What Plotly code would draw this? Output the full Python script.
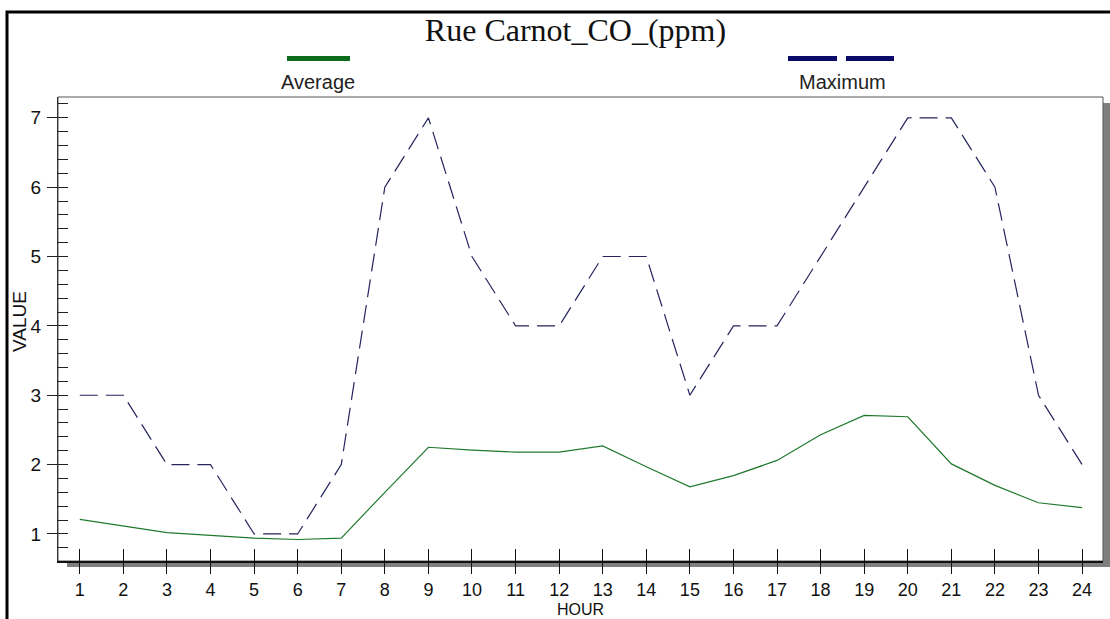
import plotly.graph_objects as go

hours = list(range(1, 25))
average = [1.21, 1.11, 1.02, 0.98, 0.94, 0.92, 0.94, 1.60, 2.25, 2.21, 2.18, 2.18, 2.27, 1.97, 1.68, 1.84, 2.06, 2.43, 2.71, 2.69, 2.01, 1.70, 1.45, 1.38]
maximum = [3, 3, 2, 2, 1, 1, 2, 6, 7, 5, 4, 4, 5, 5, 3, 4, 4, 5, 6, 7, 7, 6, 3, 2]
y_ticks = [1, 2, 3, 4, 5, 6, 7]

W, H = 1110, 619
L, R, T, B = 58, 1103, 97, 561

def px(x):
    return (x - L) / (R - L)

def py(y):
    return (B - y) / (B - T)

XR = [0.5, 24.48]
YR = [0.61, 7.3]
green = "#1f7a2c"
navy = "#24245e"
xtickfont = dict(family="Liberation Sans, Arial", size=18, color="#111")
ytickfont = dict(family="Liberation Sans, Arial", size=19, color="#111")

fig = go.Figure()
fig.add_trace(go.Scatter(x=hours, y=average, mode="lines", name="Average",
                         line=dict(color=green, width=1.2), xaxis="x", yaxis="y"))
fig.add_trace(go.Scatter(x=hours, y=maximum, mode="lines", name="Maximum",
                         line=dict(color=navy, width=1.2, dash="18px,8px"), xaxis="x2", yaxis="y2"))

shapes = [
    # outer frame
    dict(type="rect", xref="paper", yref="paper", x0=px(7), x1=px(1130), y0=py(640), y1=py(12),
         line=dict(color="black", width=3), fillcolor="rgba(0,0,0,0)", layer="below"),
    # drop shadow
    dict(type="rect", xref="paper", yref="paper", x0=px(L + 9), x1=px(R + 7), y0=py(B + 6), y1=py(T + 6),
         line=dict(width=0), fillcolor="#7f7f7f", layer="below"),
    # plot area
    dict(type="rect", xref="paper", yref="paper", x0=0, x1=1, y0=0, y1=1,
         line=dict(color="#555", width=1), fillcolor="white", layer="below"),
    # legend swatches
    dict(type="line", xref="paper", yref="paper", x0=px(287), x1=px(350), y0=py(58.5), y1=py(58.5),
         line=dict(color="#0d6b1e", width=5)),
    dict(type="line", xref="paper", yref="paper", x0=px(788), x1=px(837), y0=py(58.5), y1=py(58.5),
         line=dict(color="#0a0a6a", width=5)),
    dict(type="line", xref="paper", yref="paper", x0=px(846), x1=px(894), y0=py(58.5), y1=py(58.5),
         line=dict(color="#0a0a6a", width=5)),
]

annotations = [
    dict(text="Average", xref="paper", yref="paper", x=px(318), y=py(82), showarrow=False,
         xanchor="center", yanchor="middle", font=dict(family="Liberation Sans, Arial", size=20, color="#222")),
    dict(text="Maximum", xref="paper", yref="paper", x=px(842), y=py(82), showarrow=False,
         xanchor="center", yanchor="middle", font=dict(family="Liberation Sans, Arial", size=20, color="#222")),
    dict(text="HOUR", xref="paper", yref="paper", x=px(580), y=py(609), showarrow=False,
         xanchor="center", yanchor="middle", borderpad=0,
         font=dict(family="Liberation Sans, Arial", size=16, color="#111")),
    dict(text="VALUE", xref="paper", yref="paper", x=px(19), y=py(322), showarrow=False, textangle=-90,
         xanchor="center", yanchor="middle", font=dict(family="Liberation Sans, Arial", size=19, color="#111")),
]

fig.update_layout(
    width=W, height=H,
    margin=dict(l=L, r=W - R, t=T, b=H - B),
    paper_bgcolor="white", plot_bgcolor="rgba(0,0,0,0)",
    showlegend=False,
    title=dict(text="Rue Carnot_CO_(ppm)", xref="container", yref="container",
               x=575.5 / W, y=1 - 30 / H, xanchor="center", yanchor="middle",
               font=dict(family="Liberation Serif, Times New Roman", size=32, color="#111")),
    xaxis=dict(range=XR, tickvals=hours, ticks="outside", ticklen=11, tickwidth=1, tickcolor="#111",
               showline=True, linecolor="#111", linewidth=2, showgrid=False, zeroline=False,
               tickfont=xtickfont, ticklabelstandoff=0),
    xaxis2=dict(range=XR, overlaying="x", anchor="y2", side="bottom", tickvals=hours, ticks="inside",
                ticklen=12, tickwidth=1, tickcolor="#111", showticklabels=False, showline=False,
                showgrid=False, zeroline=False),
    yaxis=dict(range=YR, tickvals=y_ticks, ticks="outside", ticklen=10, tickwidth=1, tickcolor="#222",
               showline=True, linecolor="#333", linewidth=1, showgrid=False, zeroline=False,
               tickfont=ytickfont, ticklabelstandoff=2),
    yaxis2=dict(range=YR, overlaying="y", anchor="x2", side="left", tick0=0, dtick=0.2, ticks="inside",
                ticklen=10, tickwidth=1, tickcolor="#222", showticklabels=False, showline=False,
                showgrid=False, zeroline=False),
    shapes=shapes,
    annotations=annotations,
)

fig.write_html("out.html")
